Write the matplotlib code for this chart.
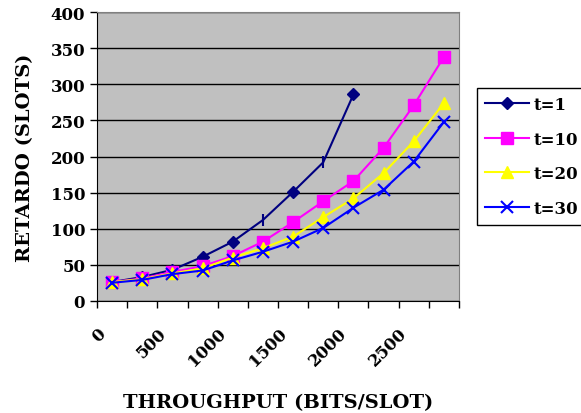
import matplotlib.pyplot as plt
from matplotlib.ticker import MultipleLocator

# throughput (bits/slot) e retardo medio (slots) para cada valor de t
throughput = [125, 375, 625, 875, 1125, 1375, 1625, 1875, 2125, 2375, 2625, 2875]
retardo_t1 = [26, 33, 43, 61, 82, 112, 151, 192, 286]
retardo_t10 = [26, 31, 40, 48, 62, 82, 109, 138, 166, 212, 271, 338]
retardo_t20 = [26, 30, 38, 45, 60, 73, 89, 116, 142, 177, 221, 274]
retardo_t30 = [25, 29, 37, 42, 56, 68, 82, 101, 129, 154, 193, 248]

x_ticks = [0, 500, 1000, 1500, 2000, 2500]

FONT = "DejaVu Serif"

fig = plt.figure(figsize=(5.81, 4.14), dpi=100)
ax = fig.add_axes([0.167, 0.271, 0.623, 0.697])
ax.set_facecolor("#C0C0C0")

ax.plot(throughput[:len(retardo_t1)], retardo_t1, color="#000080", lw=1.5,
        marker="D", ms=6, markevery=[0, 1, 2, 3, 4, 6, 8], label="t=1", zorder=3)
ax.plot([throughput[i] for i in (5, 7)], [retardo_t1[i] for i in (5, 7)],
        ls="none", marker="|", ms=9, mew=1.5, color="#000080", zorder=3)
ax.plot(throughput, retardo_t10, color="#FF00FF", lw=1.5, marker="s", ms=8,
        label="t=10", zorder=4)
ax.plot(throughput, retardo_t20, color="#FFFF00", lw=1.5, marker="^", ms=8,
        label="t=20", zorder=5)
ax.plot(throughput, retardo_t30, color="#0000FF", lw=1.5, marker="x", ms=8,
        mew=1.5, label="t=30", zorder=6)

ax.set_xlim(0, 3000)
ax.set_ylim(0, 400)
ax.yaxis.set_major_locator(MultipleLocator(50))
ax.set_xticks(range(0, 3001, 250))
ax.set_xticklabels([str(v) if v in x_ticks else "" for v in range(0, 3001, 250)])
ax.grid(axis="y", color="black", lw=1)
ax.set_axisbelow(True)

for side in ("top", "right"):
    ax.spines[side].set_color("#808080")
ax.spines["left"].set_color("black")
ax.spines["bottom"].set_color("black")

ax.tick_params(axis="both", direction="out", length=5, width=1, colors="black")
for lbl in ax.get_yticklabels():
    lbl.set_fontfamily(FONT)
    lbl.set_fontweight("bold")
    lbl.set_fontsize(12)
for lbl in ax.get_xticklabels():
    lbl.set_fontfamily(FONT)
    lbl.set_fontweight("bold")
    lbl.set_fontsize(12)
    lbl.set_rotation(45)
    lbl.set_ha("right")
    lbl.set_va("top")
    lbl.set_rotation_mode("anchor")
ax.tick_params(axis="x", pad=12)

ax.set_xlabel("THROUGHPUT (BITS/SLOT)", fontfamily=FONT, fontweight="bold",
              fontsize=14, labelpad=17)
ax.set_ylabel("RETARDO (SLOTS)", fontfamily=FONT, fontweight="bold",
              fontsize=14, labelpad=12)

leg = ax.legend(loc="upper left", bbox_to_anchor=(1.05, 0.7375), frameon=True,
                fancybox=False, edgecolor="black", framealpha=1,
                prop={"family": FONT, "weight": "bold", "size": 12},
                handlelength=2.6, labelspacing=1.05, borderpad=0.5,
                handletextpad=0.3, borderaxespad=0)
leg.get_frame().set_linewidth(1)

fig.savefig("out.png", dpi=100)
